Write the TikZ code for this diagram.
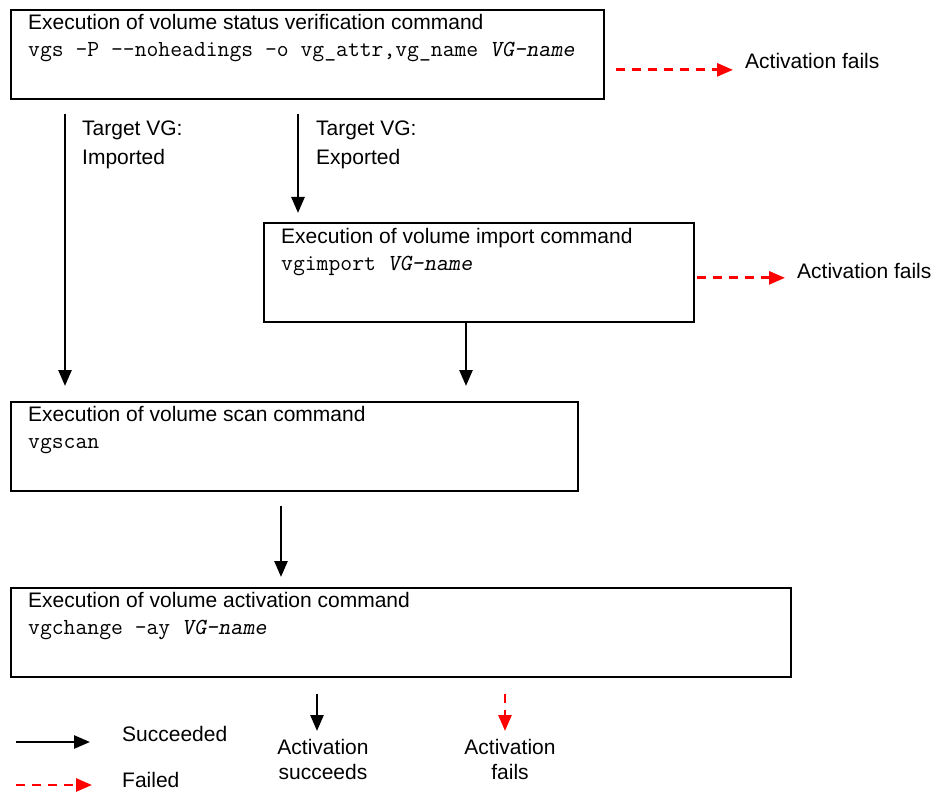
\documentclass[tikz,border=0pt]{standalone}
\usepackage{fontspec}
\setmainfont{Liberation Sans}
\usetikzlibrary{arrows.meta,positioning,calc}
\definecolor{vgred}{HTML}{FF0000}
\tikzset{
  vgbox/.style={draw=black, line width=1.7pt, anchor=north west, inner sep=0pt},
  vgtext/.style={anchor=north west, inner sep=0pt, align=left,
                 font=\fontsize{21}{27}\selectfont},
  vglabel/.style={inner sep=0pt, align=left, font=\fontsize{21}{29}\selectfont},
  vgok/.style={-{Triangle[length=16pt,width=13pt]}, line width=2.6pt, draw=black},
  vgfail/.style={-{Triangle[length=16pt,width=13pt]}, line width=2.8pt, draw=vgred,
                 dash pattern=on 9pt off 7pt},
}
\newcommand{\vgcmd}[1]{{\ttfamily\fontsize{23}{27}\selectfont #1}}

\begin{document}
\begin{tikzpicture}[x=1pt,y=-1pt]
  \useasboundingbox (0,0) rectangle (939,794);

  % command boxes
  \node[vgbox, minimum width=593pt, minimum height=89pt] (vgs)  at (10,9)   {};
  \node[vgbox, minimum width=430pt, minimum height=99pt] (imp)  at (263,222) {};
  \node[vgbox, minimum width=567pt, minimum height=89pt] (scan) at (10,401)  {};
  \node[vgbox, minimum width=780pt, minimum height=89pt] (act)  at (10,587)  {};

  \node[vgtext] (vgs-txt) at ([shift={(18pt,-5.5pt)}]vgs.north west)
    {Execution of volume status verification command\\
     \vgcmd{vgs -P -{}-noheadings -o vg\_attr,vg\_name \textsl{VG-name}}};
  \node[vgtext] (imp-txt) at ([shift={(18pt,-6.5pt)}]imp.north west)
    {Execution of volume import command\\ \vgcmd{vgimport \textsl{VG-name}}};
  \node[vgtext] (scan-txt) at ([shift={(18pt,-5.5pt)}]scan.north west)
    {Execution of volume scan command\\ \vgcmd{vgscan}};
  \node[vgtext] (act-txt) at ([shift={(18pt,-5.5pt)}]act.north west)
    {Execution of volume activation command\\ \vgcmd{vgchange -ay \textsl{VG-name}}};

  % labels
  \node[vglabel, anchor=north west] (imported) at (82,120.5) {Target VG:\\Imported};
  \node[vglabel, anchor=north west] (exported) at (316,120.5) {Target VG:\\Exported};
  \node[vglabel, anchor=base west] (fail1) at (745,69) {Activation fails};
  \node[vglabel, anchor=base west] (fail2) at (797,278) {Activation fails};

  % flow
  \draw[vgok, shorten <=14pt, shorten >=15pt]
    ($(vgs.south west)+(55,0)$) -- ($(scan.north west)+(55,0)$);
  \draw[vgok, shorten <=14pt, shorten >=9pt]
    ($(vgs.south west)+(288,0)$) -- ($(imp.north west)+(35,0)$);
  \draw[vgok, shorten >=15pt]
    ($(imp.south west)+(203,0)$) -- ($(scan.north west)+(456,0)$);
  \draw[vgok, shorten <=14pt, shorten >=10pt]
    ($(scan.south west)+(271,0)$) -- ($(act.north west)+(271,0)$);
  \draw[vgfail, shorten <=11pt, shorten >=12pt]
    ([yshift=-15.5pt]vgs.east) -- ([yshift=-15.5pt]vgs.east -| fail1.west);
  \draw[vgfail, shorten <=2pt, shorten >=12pt]
    ([yshift=-5.5pt]imp.east) -- ([yshift=-5.5pt]imp.east -| fail2.west);

  % legend
  \node[vglabel, align=center, anchor=north, font=\fontsize{21}{25}\selectfont]
    (succ) at (323,739) {Activation\\succeeds};
  \node[vglabel, align=center, anchor=north, font=\fontsize{21}{25}\selectfont]
    (failleg) at (510,739) {Activation\\fails};
  \draw[vgok, shorten <=16pt, shorten >=8pt]
    ($(act.south west)+(307,0)$) -- ($(succ.north)+(-6,0)$);
  \draw[vgfail, shorten <=16pt, shorten >=8pt]
    ($(act.south west)+(495,0)$) -- ($(failleg.north)+(-5,0)$);

  \coordinate (okA) at (16,742);
  \coordinate (okB) at (90,742);
  \coordinate (failA) at (16,785);
  \coordinate (failB) at (92,785);
  \draw[vgok] (okA) -- (okB);
  \draw[vgfail] (failA) -- (failB);
  \node[vglabel, anchor=base west] (okleg) at (122,741.5) {Succeeded};
  \node[vglabel, anchor=base west] (failedleg) at (122,787.5) {Failed};
\end{tikzpicture}
\end{document}
